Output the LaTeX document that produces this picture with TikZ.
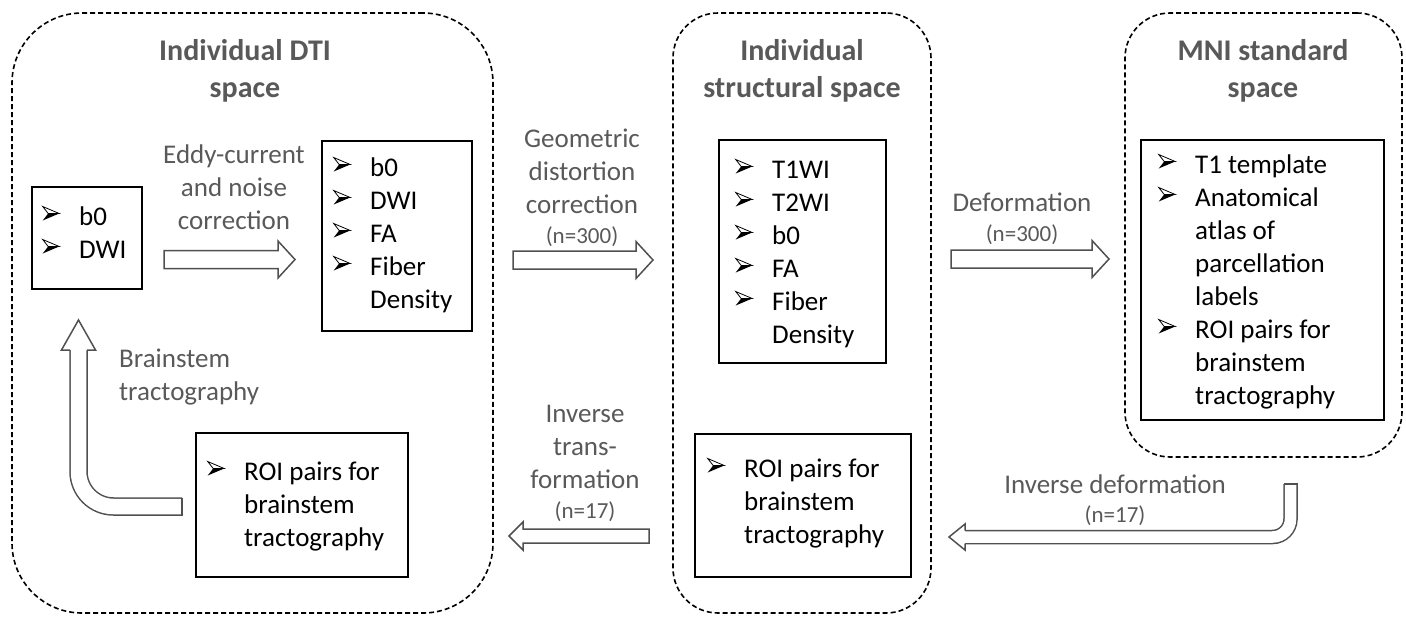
\documentclass[tikz,border=0pt]{standalone}
\usepackage{fontspec}
\setmainfont{Carlito}
\definecolor{tgray}{HTML}{595959}
\definecolor{agray}{HTML}{505050}
\newcommand\bul{\tikz[x=1pt,y=1pt,baseline=0pt,line width=0.8pt]{\useasboundingbox (0,0) rectangle (37,17);\filldraw[draw=black,fill=white,line join=miter] (0.5,18.5) -- (17,11.5) -- (6,11.5) -- cycle;\fill[black] (6,11.5) -- (17,11.5) -- (0.5,4.5) -- cycle;}}
\newcommand\harrow[6]{% tail, base, tip, y, shaft half, head half
  \draw[hollow] (#1,{#4-#5}) -- (#2,{#4-#5}) -- (#2,{#4-#6}) -- (#3,#4) -- (#2,{#4+#6}) -- (#2,{#4+#5}) -- (#1,{#4+#5}) -- cycle;}
\begin{document}
\begin{tikzpicture}[x=1pt,y=-1pt,
  container/.style={draw=black,dash pattern=on 5pt off 3pt,line width=1.6pt,inner sep=0pt},
  databox/.style={draw=black,line width=1.8pt,inner sep=0pt},
  listtxt/.style={anchor=base west,inner sep=0pt,font=\fontsize{27}{33}\selectfont},
  lbl/.style={anchor=base,inner sep=0pt,text=tgray,font=\fontsize{27}{33}\selectfont},
  ttl/.style={anchor=base,inner sep=0pt,text=tgray,font=\bfseries\fontsize{30}{37}\selectfont},
  hollow/.style={draw=agray,line width=1.5pt,fill=white,line join=miter},
  bentshaft/.style={draw=agray,line width=1.5pt,double=white,line cap=butt}]
\useasboundingbox (0,0) rectangle (1406,616);
% containers
\node[container,rounded corners=70pt,minimum width=481pt,minimum height=600pt] (S1) at (252.5,313) {};
\node[container,rounded corners=45pt,minimum width=258pt,minimum height=600pt] (S2) at (802,313) {};
\node[container,rounded corners=45pt,minimum width=277pt,minimum height=444pt] (S3) at (1263.5,235) {};
% titles
\node[ttl] (T1) at (245,60) {\begin{tabular}[t]{@{}c@{}}Individual DTI\\space\end{tabular}};
\node[ttl] (T2) at (802,60) {\begin{tabular}[t]{@{}c@{}}Individual\\structural space\end{tabular}};
\node[ttl] (T3) at (1263,60) {\begin{tabular}[t]{@{}c@{}}MNI standard\\space\end{tabular}};
% boxes
\node[databox,minimum width=110pt,minimum height=102pt] (A) at (87,238) {};
\node[databox,minimum width=150pt,minimum height=190pt] (B) at (397,236) {};
\node[databox,minimum width=212pt,minimum height=144pt] (C) at (302,505) {};
\node[databox,minimum width=167pt,minimum height=223pt] (D) at (802.5,251.5) {};
\node[databox,minimum width=216pt,minimum height=143pt] (E) at (803,505.5) {};
\node[databox,minimum width=243pt,minimum height=280pt] (F) at (1262.5,280) {};
% box texts
\node[listtxt] (At) at (42,225) {\begin{tabular}[t]{@{}l@{}l@{}}\bul&b0\\\bul&DWI\end{tabular}};
\node[listtxt] (Bt) at (333,176) {\begin{tabular}[t]{@{}l@{}l@{}}\bul&b0\\\bul&DWI\\\bul&FA\\\bul&Fiber\\&Density\end{tabular}};
\node[listtxt] (Ct) at (207,480) {\begin{tabular}[t]{@{}l@{}l@{}}\bul&ROI pairs for\\&brainstem\\&tractography\end{tabular}};
\node[listtxt] (Dt) at (735,178) {\begin{tabular}[t]{@{}l@{}l@{}}\bul&T1WI\\\bul&T2WI\\\bul&b0\\\bul&FA\\\bul&Fiber\\&Density\end{tabular}};
\node[listtxt] (Et) at (707,477) {\begin{tabular}[t]{@{}l@{}l@{}}\bul&ROI pairs for\\&brainstem\\&tractography\end{tabular}};
\node[listtxt] (Ft) at (1158,173) {\begin{tabular}[t]{@{}l@{}l@{}}\bul&T1 template\\\bul&Anatomical\\&atlas of\\&parcellation\\&labels\\\bul&ROI pairs for\\&brainstem\\&tractography\end{tabular}};
% labels
\node[lbl] (L1) at (234,163) {\begin{tabular}[t]{@{}c@{}}Eddy-current\\and noise\\correction\end{tabular}};
\node[lbl] (L2) at (582,147) {\begin{tabular}[t]{@{}c@{}}Geometric\\distortion\\correction\\[-3pt]{\fontsize{23}{28}\selectfont (n=300)}\end{tabular}};
\node[lbl] (L3) at (1022,211) {\begin{tabular}[t]{@{}c@{}}Deformation\\[-3pt]{\fontsize{23}{28}\selectfont (n=300)}\end{tabular}};
\node[lbl,anchor=base west] (L4) at (119,367) {\begin{tabular}[t]{@{}l@{}}Brainstem\\tractography\end{tabular}};
\node[lbl] (L5) at (585,422) {\begin{tabular}[t]{@{}c@{}}Inverse\\trans-\\formation\\[-3pt]{\fontsize{23}{28}\selectfont (n=17)}\end{tabular}};
\node[lbl] (L6) at (1115,493) {\begin{tabular}[t]{@{}c@{}}Inverse deformation\\[-4pt]{\fontsize{23}{28}\selectfont (n=17)}\end{tabular}};
% straight block arrows
\harrow{164}{278}{295}{259.5}{9}{18.5}
\harrow{513}{636}{653}{260}{9}{18.5}
\harrow{951}{1092}{1109}{259}{9}{18.5}
\harrow{649}{523}{509}{536}{7}{14}
% bent arrow: brainstem tractography (from C up to A)
\coordinate (b6tail) at (182,506.5);
\coordinate (b6bend) at (78.5,506.5);
\coordinate (b6base) at (78.5,350);
\draw[bentshaft,double distance=15.5pt,rounded corners=35pt] (b6tail) -- (b6bend) -- (b6base);
\draw[draw=agray,line width=1.5pt] (182,497.5) -- (182,515.5);
\filldraw[hollow] (70,350) -- (61.5,350) -- (78.5,320) -- (95.5,350) -- (87,350);
% bent arrow: inverse deformation (from F down and left to E)
\coordinate (b5tail) at (1290.5,484);
\coordinate (b5bend) at (1290.5,537);
\coordinate (b5base) at (965,537);
\draw[bentshaft,double distance=11.5pt,rounded corners=18pt] (b5tail) -- (b5bend) -- (b5base);
\draw[draw=agray,line width=1.5pt] (1283.5,484) -- (1297.5,484);
\filldraw[hollow] (965,530.5) -- (965,524) -- (949,537) -- (965,550) -- (965,543.5);
\end{tikzpicture}
\end{document}
